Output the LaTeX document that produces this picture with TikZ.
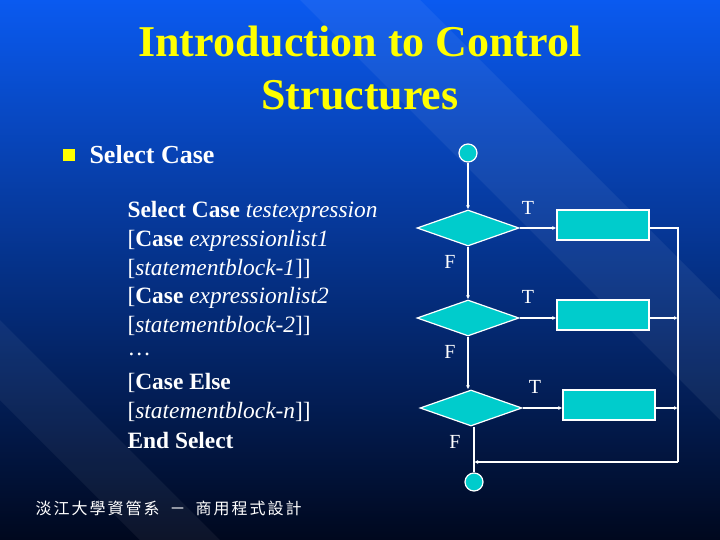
\documentclass[tikz,border=0pt]{standalone}
\usepackage{fontspec}
\setmainfont{Liberation Serif}
\newfontfamily\cjk{Noto Sans CJK TC}
\usetikzlibrary{shapes.geometric,arrows.meta,positioning}

\definecolor{slidetop}{RGB}{10,90,240}
\definecolor{slidebot}{RGB}{0,8,30}
\definecolor{flowfill}{RGB}{0,204,204}
\definecolor{titleyel}{RGB}{255,255,0}

\newcommand{\cg}{\hspace{2pt}}

\tikzset{
  flowline/.style={draw=white, line width=1.2pt},
  flowarrow/.style={flowline, -{Latex[length=4pt,width=4pt]}},
  decision/.style={diamond, aspect=2.8, minimum width=102pt, minimum height=36pt, inner sep=0pt, fill=flowfill, draw=white, line width=1.2pt},
  blockbox/.style={rectangle, minimum width=92pt, minimum height=30pt, fill=flowfill, draw=white, line width=1.2pt},
  terminal/.style={circle, minimum size=18pt, inner sep=0pt, fill=flowfill, draw=white, line width=1.2pt},
  branch/.style={text=white, font=\fontsize{20}{20}\selectfont},
  codeline/.style={text=white, anchor=west, font=\fontsize{23.4}{23.4}\selectfont}
}

\begin{document}
\begin{tikzpicture}[x=1pt,y=-1pt]
% background
\shade[top color=slidetop, bottom color=slidebot] (0,0) rectangle (720,540);
\useasboundingbox (0,0) rectangle (720,540);
\fill[white, opacity=0.06] (300,0) -- (420,0) -- (720,300) -- (720,420) -- cycle;
\fill[white, opacity=0.05] (0,320) -- (0,400) -- (240,640) -- (320,640) -- cycle;

% title
\node (title) [text=titleyel, font=\bfseries\fontsize{44}{53}\selectfont, align=center] at (360,68) {Introduction to Control\\Structures};

% bullet
\fill[titleyel] (63,149) rectangle (75,161);
\node (bullet) [text=white, anchor=west, font=\bfseries\fontsize{26}{26}\selectfont] at (86,155) {Select Case};

% code
\node (c1) [codeline] at (124,212) {\textbf{Select Case} \textit{testexpression}};
\node (c2) [codeline] at (124,240.5) {[\textbf{Case} \textit{expressionlist1}};
\node (c3) [codeline] at (124,269) {[\textit{statementblock-1}]]};
\node (c4) [codeline] at (124,297.5) {[\textbf{Case} \textit{expressionlist2}};
\node (c5) [codeline] at (124,326) {[\textit{statementblock-2}]]};
\node (c6) [codeline] at (124,354.5) {\dots};
\node (c7) [codeline] at (124,383) {[\textbf{Case Else}};
\node (c8) [codeline] at (124,411.5) {[\textit{statementblock-n}]]};
\node (c9) [codeline] at (124,440) {\textbf{End Select}};

% footer
\node (footer) [text=white, anchor=west, font=\cjk\fontsize{16}{16}\selectfont] at (32,508) {淡\cg 江\cg 大\cg 學\cg 資\cg 管\cg 系\hspace{10pt}－\hspace{10pt}商\cg 用\cg 程\cg 式\cg 設\cg 計};

% flowchart
\node (start) [terminal] at (468,153) {};
\node (d1) [decision] at (468,228) {};
\node (d2) [decision] at (468,318) {};
\node (d3) [decision] at (471,408) {};
\node (b1) [blockbox] at (603,225) {};
\node (b2) [blockbox] at (603,315) {};
\node (b3) [blockbox] at (609,405) {};
\node (stop) [terminal] at (474,482) {};
\coordinate (r1) at (678,228);
\coordinate (r2) at (678,318);
\coordinate (r3) at (678,408);
\coordinate (r4) at (678,462);
\coordinate (m4) at (474,462);

\draw[flowarrow] (start) -- (d1.north);
\draw[flowarrow] (d1.south) -- (d2.north);
\draw[flowarrow] (d2.south) -- (d2.south |- d3.north);
\draw[flowline] (m4 |- d3.south) -- (stop);
\draw[flowarrow] (d1.east) -- (b1.west |- d1.east);
\draw[flowarrow] (d2.east) -- (b2.west |- d2.east);
\draw[flowarrow] (d3.east) -- (b3.west |- d3.east);
\draw[flowline] (b1.east |- r1) -- (r1) -- (r4);
\draw[flowarrow] (b2.east |- r2) -- (r2);
\draw[flowarrow] (b3.east |- r3) -- (r3);
\draw[flowarrow] (r4) -- (m4);

\node[branch] at (528,208) {T};
\node[branch] at (528,297) {T};
\node[branch] at (535,387) {T};
\node[branch] at (450,262) {F};
\node[branch] at (450,352) {F};
\node[branch] at (455,442) {F};
\end{tikzpicture}
\end{document}
